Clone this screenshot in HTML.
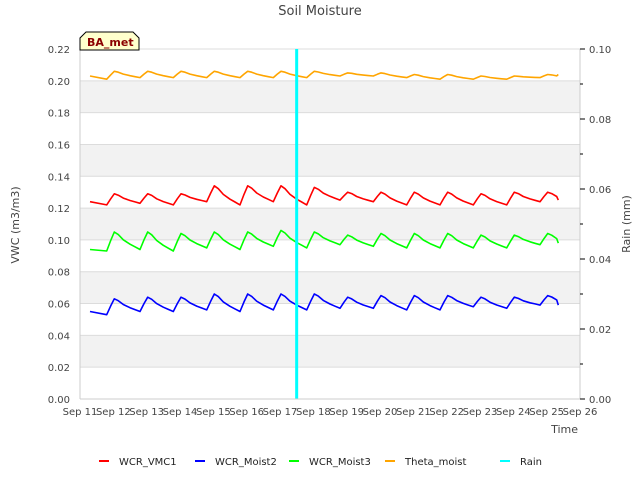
<!DOCTYPE html>
<html><head><meta charset="utf-8"><style>
body{margin:0;background:#fff;font-family:"Liberation Sans","DejaVu Sans",sans-serif;}
svg text{font-family:"DejaVu Sans","Liberation Sans",sans-serif;}
</style></head><body>
<svg id="chart" width="640" height="480" viewBox="0 0 640 480" xmlns="http://www.w3.org/2000/svg">
<text x="320" y="15" text-anchor="middle" font-size="13" fill="#444">Soil Moisture</text>
<g id="grid"></g>
<g id="series"></g>
<g id="axes"></g>
<g>
<path d="M80,50 L80,38 L86,32 L133,32 L139,38 L139,50 Z" fill="#ffffcc" stroke="#000" stroke-width="1"/>
<text x="87" y="46" font-size="11" font-weight="bold" fill="#8b0000">BA_met</text>
</g>
<text x="19" y="225" font-size="11" fill="#444" text-anchor="middle" transform="rotate(-90 19 225)">VWC (m3/m3)</text>
<text x="630" y="224" font-size="11" fill="#444" text-anchor="middle" transform="rotate(-90 630 224)">Rain (mm)</text>
<text x="578" y="433" font-size="11" fill="#444" text-anchor="end">Time</text>
<g id="legend"></g>
</svg>
<script>
const NS="http://www.w3.org/2000/svg";
const yTicks=[0,0.02,0.04,0.06,0.08,0.10,0.12,0.14,0.16,0.18,0.20,0.22];
const y2Ticks=[0,0.02,0.04,0.06,0.08,0.10];
const xDays=[11,12,13,14,15,16,17,18,19,20,21,22,23,24,25,26];
const peakDays=[12,13,14,15,16,17,18,19,20,21,22,23,24,25];
const vmc1Peaks=[0.129,0.129,0.129,0.134,0.134,0.134,0.133,0.130,0.130,0.130,0.130,0.129,0.130,0.130];
const vmc1Troughs=[0.122,0.123,0.122,0.124,0.122,0.124,0.122,0.125,0.124,0.122,0.122,0.122,0.122,0.124];
const vmc1Ends=[0.124,0.125];
const moist2Peaks=[0.063,0.064,0.064,0.066,0.066,0.066,0.066,0.064,0.065,0.065,0.065,0.064,0.064,0.065];
const moist2Troughs=[0.053,0.055,0.055,0.056,0.055,0.056,0.056,0.057,0.057,0.056,0.056,0.058,0.057,0.059];
const moist2Ends=[0.055,0.059];
const moist3Peaks=[0.105,0.105,0.104,0.105,0.105,0.106,0.105,0.103,0.104,0.104,0.104,0.103,0.103,0.104];
const moist3Troughs=[0.093,0.094,0.093,0.095,0.094,0.096,0.095,0.097,0.096,0.095,0.095,0.095,0.095,0.097];
const moist3Ends=[0.094,0.098];
const thetaPeaks=[0.206,0.206,0.206,0.206,0.206,0.206,0.206,0.205,0.205,0.204,0.204,0.203,0.203,0.204];
const thetaTroughs=[0.201,0.202,0.202,0.202,0.202,0.202,0.202,0.203,0.203,0.202,0.201,0.201,0.201,0.202];
const thetaEnds=[0.203,0.204];
const rainDay=[17.5];
const rainValue=[0.105];
const startDay=11.3, endDay=25.35;
const X0=80,X1=580,Y0=399,Y1=49;
const xs=d=>X0+(d-11)/(26-11)*(X1-X0);
const ys=v=>Y0-v/0.22*(Y0-Y1);
const y2s=v=>Math.max(Y1,Y0-v/0.10*(Y0-Y1));
function el(t,a,p){const e=document.createElementNS(NS,t);for(const k in a)e.setAttribute(k,a[k]);p.appendChild(e);return e;}
const grid=document.getElementById('grid'),axes=document.getElementById('axes'),series=document.getElementById('series'),legend=document.getElementById('legend');
for(let i=0;i<yTicks.length-1;i++){if(i%2===1){const r=el('rect',{x:X0,y:ys(yTicks[i+1]),width:X1-X0,height:ys(yTicks[i])-ys(yTicks[i+1]),fill:'#f2f2f2'},grid);

}}
yTicks.forEach(v=>{const l=el('line',{x1:X0,x2:X1,y1:ys(v),y2:ys(v),stroke:'#dcdcdc','stroke-width':1},grid);


const t=el('text',{x:X0-10,y:ys(v)+4,'text-anchor':'end','font-size':10,fill:'#444'},axes);t.textContent=v.toFixed(2);

});
el('line',{x1:X0,x2:X0,y1:Y1,y2:Y0,stroke:'#ccc'},axes);
el('line',{x1:X1,x2:X1,y1:Y1,y2:Y0,stroke:'#ccc'},axes);
el('line',{x1:X0,x2:X1,y1:Y0,y2:Y0,stroke:'#ccc'},axes);
for(let i=0;i<=10;i++){const v=i*0.01;const major=i%2===0;el('line',{x1:X1,x2:X1+(major?5:3),y1:y2s(v),y2:y2s(v),stroke:'#000'},axes);}
y2Ticks.forEach(v=>{const t=el('text',{x:X1+9,y:y2s(v)+4,'font-size':10,fill:'#444'},axes);t.textContent=v.toFixed(2);

});
xDays.forEach(d=>{const t=el('text',{x:xs(d),y:Y0+16,'text-anchor':'middle','font-size':10,fill:'#444'},axes);t.textContent='Sep '+d;

});
const shape=[[-0.2,0],[-0.08,0.55],[0.03,1],[0.15,0.85],[0.3,0.55],[0.5,0.3],[0.65,0.15]];
function path(peaks,troughs,ends){const pts=[[startDay,ends[0]]];
peaks.forEach((p,i)=>{const d=peakDays[i];const tr=troughs[i];const nt=troughs[Math.min(i+1,troughs.length-1)];
shape.forEach((s,j)=>{const base=j<=2?tr:nt;pts.push([d+s[0],base+(p-base)*s[1]]);});});
pts.push([endDay,ends[1]]);
return pts.filter(p=>p[0]<=endDay&&p[0]>=startDay).map((p,i)=>(i?'L':'M')+xs(p[0]).toFixed(1)+','+ys(p[1]).toFixed(1)).join(' ');}
const defs=[['vmc1','#ff0000',vmc1Peaks,vmc1Troughs,vmc1Ends],['moist2','#0000ff',moist2Peaks,moist2Troughs,moist2Ends],['moist3','#00ff00',moist3Peaks,moist3Troughs,moist3Ends],['theta','#ffa500',thetaPeaks,thetaTroughs,thetaEnds]];
defs.forEach(s=>{const p=el('path',{d:path(s[2],s[3],s[4]),fill:'none',stroke:s[1],'stroke-width':1.6,'stroke-linejoin':'round'},series);

});
const rb=el('line',{x1:xs(startDay),x2:xs(endDay),y1:y2s(0),y2:y2s(0),stroke:'#7fe8e8','stroke-width':1},series);


const rp=el('line',{x1:xs(rainDay[0]),x2:xs(rainDay[0]),y1:y2s(0),y2:y2s(rainValue[0]),stroke:'#00ffff','stroke-width':3},series);


const leg=[['WCR_VMC1','#ff0000',99],['WCR_Moist2','#0000ff',195],['WCR_Moist3','#00ff00',289],['Theta_moist','#ffa500',385],['Rain','#00ffff',500]];
leg.forEach(l=>{const g=el('g',{},legend);


el('line',{x1:l[2],x2:l[2]+10,y1:461,y2:461,stroke:l[1],'stroke-width':2},g);
const t=el('text',{x:l[2]+20,y:465,'font-size':10,fill:'#222'},g);t.textContent=l[0];});
</script>
</body></html>
